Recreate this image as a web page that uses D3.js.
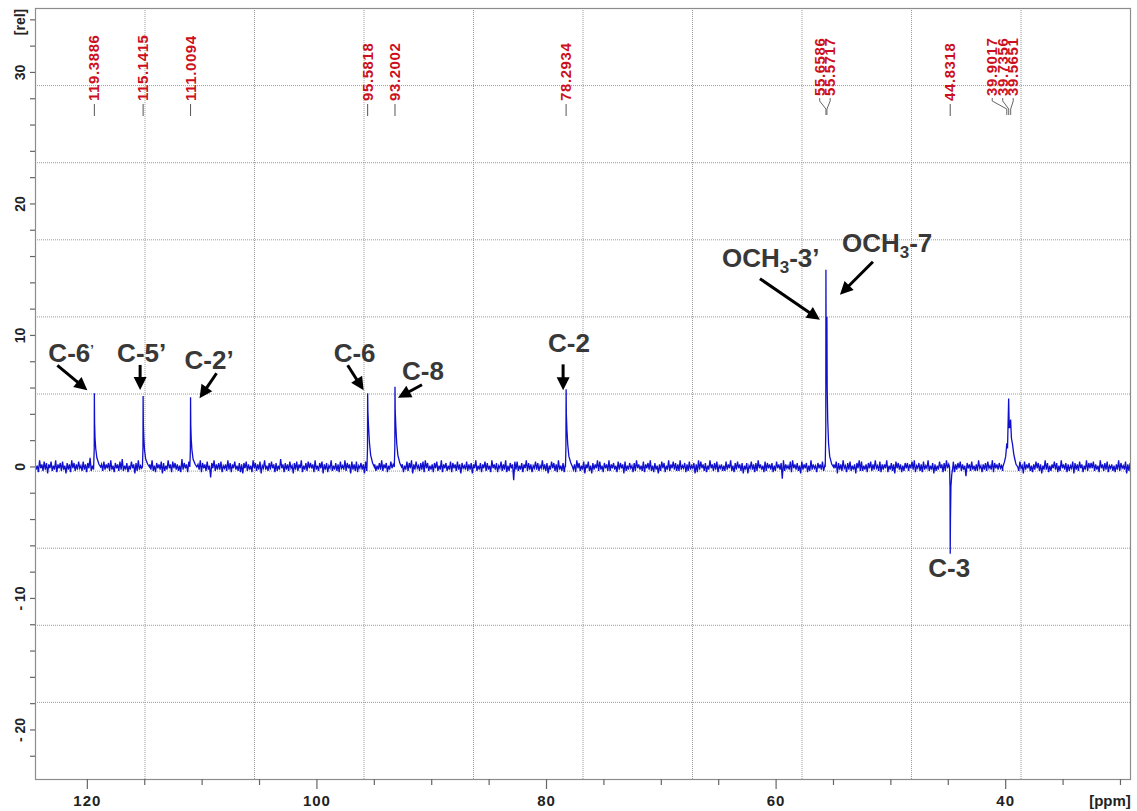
<!DOCTYPE html>
<html><head><meta charset="utf-8">
<script src="https://cdn.jsdelivr.net/npm/d3@7"></script>
<style>body{margin:0;background:#fff}svg{display:block}</style></head>
<body><svg id="c" width="1137" height="811"></svg>
<script>
// ---------------- DATA ----------------
const xMajorTicks = [120, 100, 80, 60, 40];
const xMinorTicks = [120, 115, 110, 105, 100, 95, 90, 85, 80, 75, 70, 65, 60, 55, 50, 45, 40, 35, 30];
const yLabelTicks = [30, 20, 10, 0, -10, -20];
const yLabelText = ["30", "20", "10", "0", "- 10", "- 20"];
const yMinorTicks = [-22,-20,-18,-16,-14,-12,-10,-8,-6,-4,-2,0,2,4,6,8,10,12,14,16,18,20,22,24,26,28,30,32,34];
const xAxisTitle = "[ppm]";
const yAxisTitle = "[rel]";

// chemical shift labels (top, red)
const shiftSingles = ["119.3886", "115.1415", "111.0094", "95.5818", "93.2002", "78.2934", "44.8318"];
const shiftGroupA = ["55.6586", "55.5717"];
const shiftGroupB = ["39.9017", "39.7356", "39.5651"];

// baseline noise (rel), sampled from 124.56 ppm downwards every 0.1 ppm
const noiseStartPpm = 124.56;
const noiseStepPpm = 0.1;
const noise = [
.3,-.2,.1,-.4,.5,-.1,.2,-.3,.4,-.2,.3,-.5,.2,-.1,.4,-.3,.1,-.2,.5,-.4,
.2,-.1,.3,-.3,.4,-.2,.1,-.5,.3,-.2,.2,-.4,.5,-.1,.3,-.3,.2,-.2,.4,-.1,
.1,-.3,.4,-.2,.2,-.4,.3,-.1,.7,-.3,.1,-.2,.4,-.4,.2,-.1,.3,-.5,.2,-.3,
.4,-.2,.2,-.1,.3,-.3,.5,-.2,.1,-.4,.3,-.1,.2,-.3,.4,-.2,.6,-.3,.1,-.2,
.3,-.4,.1,-.2,.4,-.1,.2,-.5,.3,-.3,.5,-.2,.1,-.1,.3,-.4,.2,-.2,.4,-.3,
.2,-.2,.5,-.3,.1,-.4,.3,-.1,.2,-.2,.4,-.5,.3,-.3,.1,-.2,.5,-.1,.2,-.4,
.4,-.1,.3,-.2,.2,-.3,.1,-.4,.6,-.2,.3,-.1,.2,-.4,.4,-.3,.1,-.2,.3,-.5,
.1,-.3,.2,-.2,.5,-.4,.3,-.1,.2,-.3,.4,-.2,.1,-.8,.3,-.1,.5,-.3,.2,-.2,
.3,-.2,.4,-.4,.1,-.1,.2,-.3,.5,-.2,.3,-.4,.2,-.1,.4,-.2,.1,-.3,.3,-.4,
.2,-.5,.3,-.1,.4,-.3,.2,-.2,.1,-.4,.5,-.1,.3,-.3,.2,-.2,.4,-.5,.1,-.1,
.5,-.2,.1,-.3,.3,-.2,.4,-.1,.2,-.4,.3,-.3,.1,-.2,.6,-.1,.2,-.4,.3,-.2,
.2,-.3,.4,-.1,.1,-.5,.3,-.2,.4,-.3,.2,-.1,.5,-.4,.1,-.2,.3,-.3,.4,-.1,
.3,-.1,.2,-.4,.5,-.2,.1,-.3,.3,-.1,.4,-.5,.2,-.2,.3,-.4,.1,-.1,.5,-.3,
.1,-.2,.3,-.3,.2,-.4,.4,-.1,.1,-.2,.5,-.3,.3,-.1,.2,-.5,.4,-.2,.2,-.3,
.4,-.4,.1,-.1,.3,-.2,.2,-.5,.4,-.3,.1,-.2,.3,-.4,.5,-.1,.2,-.3,.1,-.2,
.3,-.2,.5,-.3,.2,-.1,.3,-.4,.1,-.2,.4,-.1,.2,-.3,.3,-.2,.5,-.4,.2,-.1,
.2,-.4,.1,-.2,.4,-.3,.3,-.1,.5,-.5,.2,-.2,.4,-.1,.1,-.3,.3,-.2,.4,-.4,
.5,-.1,.3,-.3,.1,-.2,.2,-.4,.3,-.1,.4,-.3,.1,-.2,.5,-.4,.2,-.1,.3,-.3,
.1,-.2,.4,-.4,.3,-.1,.2,-.3,.4,-.2,.2,-.5,.3,-.1,.1,-.2,.4,-.3,.2,-.2,
.3,-.5,.2,-.1,.5,-.3,.1,-.2,.3,-.4,.2,-.1,.4,-.3,.3,-.2,.1,-.4,.5,-.1,
.2,-.2,.3,-.4,.1,-.1,.4,-.3,.2,-.2,.5,-.4,.1,-.3,.3,-.1,.2,-1.0,.4,-.2,
.4,-.3,.1,-.2,.3,-.4,.2,-.1,.5,-.3,.3,-.2,.2,-.4,.1,-.1,.4,-.2,.3,-.3,
.1,-.1,.5,-.2,.2,-.3,.3,-.5,.1,-.2,.4,-.1,.3,-.3,.2,-.4,.5,-.2,.1,-.3,
.3,-.4,.2,-.2,.4,-.1,.1,-.3,.3,-.2,.2,-.4,.5,-.1,.3,-.3,.1,-.2,.4,-.5,
.2,-.1,.4,-.3,.1,-.5,.3,-.2,.2,-.1,.5,-.3,.4,-.2,.1,-.4,.3,-.1,.2,-.3,
.5,-.3,.2,-.1,.3,-.2,.1,-.4,.4,-.2,.3,-.1,.2,-.5,.4,-.3,.1,-.2,.3,-.1,
.1,-.4,.3,-.3,.5,-.1,.2,-.2,.1,-.3,.4,-.4,.2,-.1,.3,-.2,.5,-.3,.1,-.4,
.3,-.2,.1,-.5,.2,-.3,.4,-.1,.3,-.4,.1,-.2,.5,-.3,.2,-.1,.4,-.2,.3,-.3,
.2,-.3,.5,-.2,.1,-.1,.3,-.4,.2,-.3,.4,-.2,.1,-.1,.3,-.5,.2,-.4,.5,-.2,
.4,-.1,.2,-.3,.3,-.4,.1,-.2,.5,-.1,.2,-.3,.3,-.2,.4,-.4,.1,-.1,.2,-.3,
.1,-.3,.4,-.2,.2,-.1,.5,-.3,.1,-.4,.3,-.2,.4,-.1,.2,-.3,.3,-.5,.1,-.2,
.3,-.5,.1,-.1,.4,-.2,.2,-.4,.3,-.3,.5,-.1,.2,-.2,.1,-.4,.4,-.3,.3,-.1,
.2,-.2,.3,-.4,.1,-.3,.4,-.1,.2,-.2,.3,-.9,.5,-.3,.2,-.1,.1,-.2,.4,-.4,
.5,-.1,.2,-.2,.3,-.3,.1,-.5,.4,-.2,.2,-.1,.3,-.4,.1,-.3,.5,-.2,.2,-.1,
.1,-.4,.3,-.1,.2,-.2,.4,-.3,.1,-.1,.5,-.4,.2,-.3,.3,-.2,.2,-.1,.4,-.5,
.3,-.2,.2,-.3,.5,-.1,.1,-.4,.3,-.2,.4,-.3,.1,-.2,.2,-.5,.3,-.1,.5,-.3,
.4,-.3,.1,-.2,.2,-.4,.3,-.1,.4,-.3,.2,-.2,.5,-.1,.1,-.3,.4,-.4,.2,-.2,
.2,-.1,.5,-.4,.1,-.2,.3,-.3,.2,-.5,.4,-.1,.3,-.2,.2,-.4,.1,-.3,.3,-.1,
.3,-.3,.2,-.1,.4,-.2,.5,-.4,.1,-.1,.3,-.3,.2,-.4,.4,-.2,.1,-.1,.5,-.3,
.1,-.2,.3,-.5,.2,-.3,.1,-.2,.4,-.1,.2,-.4,.3,-.3,.5,-.1,.2,-.2,.3,-.4,
.4,-.4,.2,-.2,.3,-.1,.4,-.3,.2,-.2,.1,-.7,.3,-.1,.2,-.3,.4,-.2,.1,-.3,
.2,-.3,.5,-.1,.1,-.4,.2,-.2,.3,-.3,.4,-.1,.1,-.2,.5,-.4,.3,-.1,.2,-.2,
.3,-.1,.1,-.3,.4,-.2,.3,-.5,.2,-.1,.5,-.3,.2,-.2,.1,-.4,.3,-.3,.4,-.1,
.1,-.5,.4,-.2,.2,-.1,.3,-.3,.1,-.4,.2,-.2,.4,-.1,.3,-.3,.2,-.5,.1,-.2,
.5,-.2,.3,-.4,.1,-.3,.2,-.1,.4,-.2,.3,-.4,.1,-.3,.5,-.1,.2,-.2,.3,-.4,
.2,-.3,.1,-.1,.4,-.5,.3,-.2,.2,-.3,.4,-.1,.2,-.4,.1,-.2,.5,-.3,.3,-.1,
.3,-.1,.4,-.3,.2,-.2,.1,-.4,.5,-.1,.2,-.3,.3,-.2,.4,-.4,.1,-.1,.2,-.3,
.1,-.4,.2,-.2,.5,-.3,.3,-.1,.1,-.2,.4,-.5,.2,-.3,.3,-.1,.4,-.2,.2,-.3
];

// peak profiles: [ppm, rel]
const peakC6p = [[119.45,0],[119.40,1.4],[119.389,5.6],[119.37,3.4],[119.33,2.2],[119.27,1.4],[119.17,0.7],[118.99,0.2],[118.84,0]];
const peakC5p = [[115.20,0],[115.155,1.4],[115.142,5.4],[115.12,3.2],[115.08,2.2],[115.02,1.3],[114.92,0.6],[114.74,0.2],[114.59,0]];
const peakC2p = [[111.07,0],[111.025,1.3],[111.009,5.3],[110.99,3.2],[110.95,2.1],[110.89,1.3],[110.79,0.6],[110.61,0.2],[110.46,0]];
const peakC6 = [[95.64,0],[95.595,1.4],[95.582,5.6],[95.56,4.2],[95.50,3.0],[95.42,1.8],[95.32,0.9],[95.15,0.3],[95.0,0]];
const peakC8 = [[93.26,0],[93.215,1.5],[93.200,6.1],[93.18,4.3],[93.12,3.0],[93.05,1.8],[92.95,0.9],[92.78,0.3],[92.63,0]];
const peakC2 = [[78.35,0],[78.31,1.5],[78.293,5.9],[78.27,4.0],[78.22,2.8],[78.15,1.7],[78.05,0.8],[77.88,0.3],[77.73,0]];
const peakOMe = [[55.72,0],[55.67,3.0],[55.659,15.0],[55.64,9.0],[55.60,7.5],[55.572,11.4],[55.55,6.0],[55.50,3.5],[55.43,1.8],[55.33,0.8],[55.15,0.2],[55.0,0]];
const peakC3 = [[44.89,0],[44.85,-1.5],[44.832,-6.6],[44.81,-4.0],[44.77,-1.5],[44.70,-0.6],[44.6,0]];
const peakDMSO = [[40.25,0],[40.10,0.4],[40.0,0.8],[39.90,1.8],[39.84,1.4],[39.74,5.2],[39.69,3.0],[39.64,3.0],[39.57,3.6],[39.50,2.2],[39.40,1.7],[39.30,1.0],[39.23,0.7],[39.10,0.2],[38.95,0]];
const peakProfiles = [peakC6p, peakC5p, peakC2p, peakC6, peakC8, peakC2, peakOMe, peakC3, peakDMSO];

// assignments
const annotText = ["C-6", "C-5’", "C-2’", "C-6", "C-8", "C-2", "OCH3-3’", "OCH3-7", "C-3"];
const annotPpm = [119.3886, 115.1415, 111.0094, 95.5818, 93.2002, 78.2934, 55.6586, 55.5717, 44.8318];
const annotVal = [5.6, 5.4, 5.3, 5.6, 6.1, 5.9, 15.0, 15.0, -6.6];

// ---------------- LAYOUT ----------------
const L = 35, R = 1130, T = 8, B = 779;
const svg = d3.select("#c");
const FONT = "'Liberation Sans', Arial, Helvetica, sans-serif";
const x = d3.scaleLinear().domain([124.56, 29.17]).range([L, R]);
const y = d3.scaleLinear().domain([34.9, -23.73]).range([T, B]);

// grid (10 x 10 divisions)
const grid = svg.append("g").attr("stroke", "#9a9a9a").attr("stroke-width", 1).attr("stroke-dasharray", "1,1");
d3.range(1, 10).forEach(k => {
  const gx = L + (R - L) * k / 10 + 0.5;
  grid.append("line").attr("x1", gx).attr("x2", gx).attr("y1", T).attr("y2", B);
  const gy = T + (B - T) * k / 10 + 0.5;
  grid.append("line").attr("x1", L).attr("x2", R).attr("y1", gy).attr("y2", gy);
});

// spectrum
const noisePts = noise.map((v, i) => [noiseStartPpm - i * noiseStepPpm, v]);
const ranges = peakProfiles.map(p => [d3.min(p, d => d[0]), d3.max(p, d => d[0])]);
const kept = noisePts.filter(p => !ranges.some(r => p[0] >= r[0] && p[0] <= r[1]));
const all = kept.concat(...peakProfiles).sort((a, b) => b[0] - a[0]);
svg.append("clipPath").attr("id", "clip").append("rect").attr("x", L).attr("y", T).attr("width", R - L).attr("height", B - T);
const line = d3.line().x(d => x(d[0])).y(d => y(d[1]));
svg.append("path").datum(all).attr("d", line).attr("fill", "none")
  .attr("stroke", "#1010cc").attr("stroke-width", 1.3).attr("clip-path", "url(#clip)");

// frame
svg.append("rect").attr("x", L + 0.5).attr("y", T + 0.5).attr("width", R - L).attr("height", B - T)
  .attr("fill", "none").attr("stroke", "#8c8c8c").attr("stroke-width", 1.2);

// x axis
const ax = svg.append("g").attr("stroke", "#666").attr("stroke-width", 1.2);
xMinorTicks.forEach(t => {
  const isMajor = xMajorTicks.includes(t);
  ax.append("line").attr("x1", x(t)).attr("x2", x(t)).attr("y1", B).attr("y2", B + (isMajor ? 10 : 6));
});
svg.append("g").selectAll("text").data(xMajorTicks).join("text")
  .attr("x", d => x(d)).attr("y", 806).attr("text-anchor", "middle")
  .attr("font-family", FONT).attr("font-weight", "bold").attr("font-size", 15).attr("letter-spacing", 1)
  .attr("fill", "#222").text(d => d);
svg.append("text").attr("x", 1110).attr("y", 806).attr("text-anchor", "middle")
  .attr("font-family", FONT).attr("font-weight", "bold").attr("font-size", 15).attr("fill", "#222").text(xAxisTitle);

// y axis
const ay = svg.append("g").attr("stroke", "#666").attr("stroke-width", 1.2);
yMinorTicks.forEach(t => {
  ay.append("line").attr("x1", L - 5).attr("x2", L).attr("y1", y(t)).attr("y2", y(t));
});
svg.append("g").selectAll("text").data(yLabelTicks).join("text")
  .attr("transform", d => `translate(25,${y(d)}) rotate(-90)`).attr("text-anchor", "middle")
  .attr("font-family", FONT).attr("font-weight", "bold").attr("font-size", 14)
  .attr("fill", "#222").text((d, i) => yLabelText[i]);
svg.append("text").attr("transform", "translate(25,22) rotate(-90)").attr("text-anchor", "middle")
  .attr("font-family", FONT).attr("font-weight", "bold").attr("font-size", 14).attr("fill", "#222").text(yAxisTitle);

// chemical shift labels
const RED = "#cc1020";
const lab = svg.append("g");
function shiftText(xx, yy, s) {
  lab.append("text").attr("transform", `translate(${xx + 5},${yy}) rotate(-90)`)
    .attr("font-family", FONT).attr("font-weight", "bold").attr("font-size", 15).attr("letter-spacing", 0.6)
    .attr("fill", RED).text(s);
}
shiftSingles.forEach(s => {
  const px = x(+s);
  shiftText(px, 101, s);
  lab.append("line").attr("x1", px).attr("x2", px).attr("y1", 104).attr("y2", 116).attr("stroke", "#555").attr("stroke-width", 1);
});
function shiftGroup(arr, offset) {
  const cx = d3.mean(arr, s => x(+s)) + offset;
  arr.forEach((s, i) => {
    const lx = cx + (i - (arr.length - 1) / 2) * 10.5;
    const px = x(+s);
    shiftText(lx, 96, s);
    lab.append("path").attr("d", `M${lx},98 L${lx},101 L${px},109 L${px},115`)
      .attr("fill", "none").attr("stroke", "#666").attr("stroke-width", 1);
  });
}
shiftGroup(shiftGroupA, -1.5);
shiftGroup(shiftGroupB, -6);

// assignment annotations
const annotLayout = [
  {tx: -46, ty: -31, a: [-37, -28, -7, -3], mark: true},
  {tx: -26, ty: -34, a: [-3, -31, -3, -6]},
  {tx: -6, ty: -28, a: [26, -24, 9, 1]},
  {tx: -34, ty: -31, a: [-20, -28, -4, -3]},
  {tx: 7, ty: -7, a: [27, -2, 3, 11]},
  {tx: -18, ty: -37, a: [-3, -25, -3, 1]},
  {tx: -104, ty: -3, a: [-66, 9, -6, 50]},
  {tx: 15, ty: -18, a: [46, -8, 13, 25]},
  {tx: -22, ty: 23, a: null}
];
const an = svg.append("g");
annotText.forEach((t, i) => {
  const px = x(annotPpm[i]), py = y(annotVal[i]);
  const lay = annotLayout[i];
  const tx = an.append("text").attr("x", px + lay.tx).attr("y", py + lay.ty)
    .attr("font-family", FONT).attr("font-weight", "bold").attr("font-size", 26).attr("fill", "#383838");
  if (t.startsWith("OCH3")) {
    tx.append("tspan").text("OCH");
    tx.append("tspan").attr("font-size", 17).attr("dy", 6).text("3");
    tx.append("tspan").attr("dy", -6).text(t.slice(4));
  } else {
    tx.append("tspan").text(t);
    if (lay.mark) tx.append("tspan").attr("font-size", 13).attr("dy", -8).text("’");
  }
  if (lay.a) {
    const x1 = px + lay.a[0], y1 = py + lay.a[1], x2 = px + lay.a[2], y2 = py + lay.a[3];
    const dx = x2 - x1, dy = y2 - y1, len = Math.hypot(dx, dy);
    const ux = dx / len, uy = dy / len, hl = 13, hw = 6.5;
    const bx = x2 - ux * hl, by = y2 - uy * hl;
    an.append("line").attr("x1", x1).attr("y1", y1).attr("x2", bx + ux * 1).attr("y2", by + uy * 1)
      .attr("stroke", "#000").attr("stroke-width", 3);
    an.append("polygon").attr("points",
      `${x2},${y2} ${bx - uy * hw},${by + ux * hw} ${bx + uy * hw},${by - ux * hw}`).attr("fill", "#000");
  }
});
</script>
</body></html>
